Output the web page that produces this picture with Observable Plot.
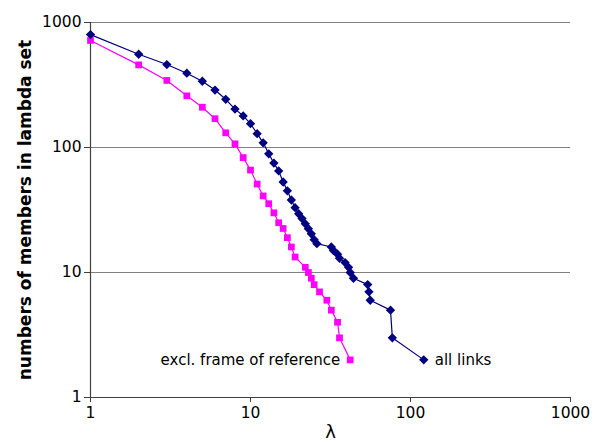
<!DOCTYPE html>
<html>
<head>
<meta charset="utf-8">
<script src="https://cdn.jsdelivr.net/npm/d3@7"></script>
<script src="https://cdn.jsdelivr.net/npm/@observablehq/plot@0.6"></script>
<style>
  html, body { margin: 0; padding: 0; background: #fff; }
  #chart svg { display: block; }
</style>
</head>
<body>
<div id="chart"></div>
<script>
const allLambda = [1,2,3,4,5,6,7,8,9,10,11,12,13,14,15,16,17,18,19,20,21,22,23,24,25,26,32,33,35,36,39,41,42,44,54,55,56,75,77,121];
const allCount  = [800,557,461,393,339,288,243,203,179,155,129,109,89,75,65,53,45,38,33,29.5,27,24.5,22.4,20.4,18.3,17,16,15,14,13,12,11,10,9,8,7,6,5,3,2];
const exclLambda = [1,2,3,4,5,6,7,8,9,10,11,12,13,14,15,16,17,18,19,22,23,24,25,27,30,32,35,36,42];
const exclCount  = [718,458,344,259,210,170,131,107,83,66,51,41,35.5,30,25,22.5,19,16,13.3,11,10,9,8,7,6,5,4,3,2];
const seriesNames = ["all links", "excl. frame of reference"];
const tickValues = [1, 10, 100, 1000];
const xLabel = "λ";
const yLabel = "numbers of members in lambda set";

const allData = allLambda.map((x, i) => ({x, y: allCount[i]}));
const exclData = exclLambda.map((x, i) => ({x, y: exclCount[i]}));
const allEnd = [{x: allLambda[allLambda.length - 1], y: allCount[allCount.length - 1], t: seriesNames[0]}];
const exclEnd = [{x: exclLambda[exclLambda.length - 1], y: exclCount[exclCount.length - 1], t: seriesNames[1]}];

const font = "DejaVu Sans, Verdana, sans-serif";

const chart = Plot.plot({
  width: 596,
  height: 444,
  marginLeft: 90,
  marginRight: 26,
  marginTop: 22,
  marginBottom: 47,
  style: {fontFamily: font, fontSize: "15px", color: "#000", background: "#fff"},
  x: {type: "log", domain: [1, 1000]},
  y: {type: "log", domain: [1, 1000]},
  marks: [
    Plot.ruleY(tickValues.slice(1), {stroke: "#808080", strokeWidth: 1.2}),
    Plot.ruleX([1], {stroke: "#404040", strokeWidth: 1.2}),
    Plot.ruleY([1], {stroke: "#404040", strokeWidth: 1.2}),
    Plot.axisY({ticks: tickValues, tickFormat: d => String(d), tickSize: 6, tickPadding: 3, stroke: "#404040", fontSize: 15.5, label: null}),
    Plot.axisX({ticks: tickValues, tickFormat: d => String(d), tickSize: 5, tickPadding: 4, stroke: "#404040", fontSize: 15.5, label: null}),
    Plot.line(exclData, {x: "x", y: "y", stroke: "#FF00FF", strokeWidth: 1.2}),
    Plot.dot(exclData, {x: "x", y: "y", symbol: "square", r: 3.8, fill: "#FF00FF", stroke: "none"}),
    Plot.line(allData, {x: "x", y: "y", stroke: "#000080", strokeWidth: 1.2}),
    Plot.dot(allData, {x: "x", y: "y", symbol: "diamond2", r: 4.2, fill: "#000080", stroke: "none"}),
    Plot.text(allEnd, {x: "x", y: "y", text: "t", textAnchor: "start", dx: 11, fontSize: 15, fill: "#000"}),
    Plot.text(exclEnd, {x: "x", y: "y", text: "t", textAnchor: "end", dx: -10, fontSize: 15, fill: "#000"}),
    Plot.text([xLabel], {frameAnchor: "bottom", dy: 40, fontSize: 18, fill: "#000", text: d => d}),
    Plot.text([yLabel], {frameAnchor: "left", textAnchor: "middle", dx: -65, rotate: -90, fontSize: 17, fontWeight: "bold", fill: "#000", text: d => d})
  ]
});
document.getElementById("chart").appendChild(chart);
</script>
</body>
</html>
